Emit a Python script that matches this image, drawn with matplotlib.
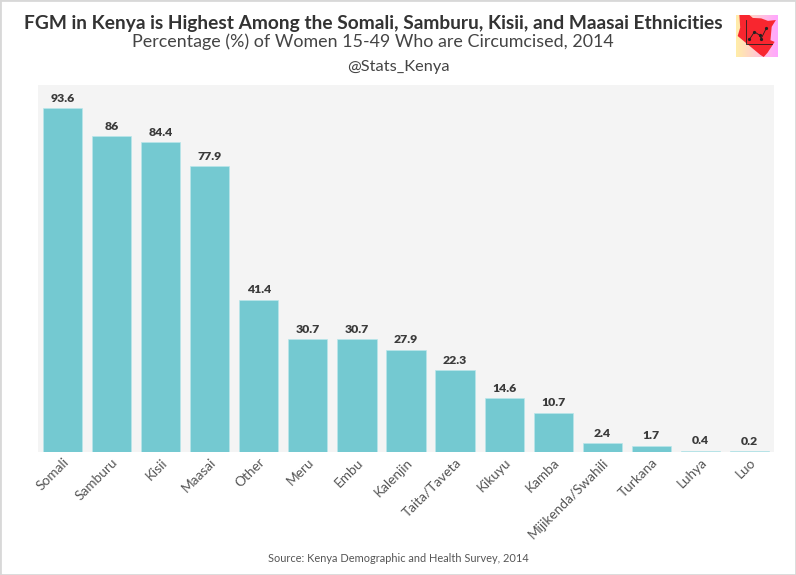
import matplotlib
matplotlib.use('Agg')
import matplotlib.pyplot as plt
from matplotlib.patches import Polygon, Rectangle
import numpy as np

plt.rcParams['font.family'] = ['Lato', 'DejaVu Sans']

groups = ['Somali', 'Samburu', 'Kisii', 'Maasai', 'Other', 'Meru', 'Embu', 'Kalenjin',
          'Taita/Taveta', 'Kikuyu', 'Kamba', 'Mijikenda/Swahili', 'Turkana', 'Luhya', 'Luo']
values = [93.6, 86, 84.4, 77.9, 41.4, 30.7, 30.7, 27.9, 22.3, 14.6, 10.7, 2.4, 1.7, 0.4, 0.2]
value_labels = ['93.6', '86', '84.4', '77.9', '41.4', '30.7', '30.7', '27.9', '22.3',
                '14.6', '10.7', '2.4', '1.7', '0.4', '0.2']

W, H = 796, 575
BAR_COLOR = '#74c9d1'
PANEL_COLOR = '#f4f4f4'

fig = plt.figure(figsize=(W / 100, H / 100), dpi=100, facecolor='white')

ax = fig.add_axes([38 / W, 1 - 452 / H, 736 / W, 367 / H], facecolor=PANEL_COLOR)
x = np.arange(len(groups))
ax.bar(x, values, width=0.8, color=BAR_COLOR, edgecolor='#b9e6ea', linewidth=0.5)
ax.set_xlim(-0.5, 14.5)
ax.set_ylim(0, 100.0)
for s in ax.spines.values():
    s.set_visible(False)
ax.set_yticks([])
ax.set_xticks(x)
ax.set_xticklabels(groups, rotation=45, ha='right', va='top', rotation_mode='anchor',
                   fontsize=9.8, color='#555555')
ax.tick_params(axis='x', length=0, pad=3)

for xi, v, lab in zip(x, values, value_labels):
    ax.annotate(lab, (xi, v), xytext=(0, 3.3), textcoords='offset points', ha='center',
                va='bottom', fontsize=8.8, fontweight='heavy', color='#3a3a3a')

fig.text(373 / W, 1 - 23 / H, 'FGM in Kenya is Highest Among the Somali, Samburu, Kisii, and Maasai Ethnicities',
         ha='center', va='center', fontsize=13.8, fontweight='bold', color='#333333')
fig.text(373 / W, 1 - 41.5 / H, 'Percentage (%) of Women 15-49 Who are Circumcised, 2014',
         ha='center', va='center', fontsize=12.85, color='#444444')
fig.text(398 / W, 1 - 67 / H, '@Stats_Kenya', ha='center', va='center', fontsize=11.8, color='#444444')
fig.text(398 / W, 1 - 558 / H, 'Source: Kenya Demographic and Health Survey, 2014',
         ha='center', va='center', fontsize=7.95, color='#555555')

# logo top right: gradient square with a red map and a tiny chart
logo = fig.add_axes([736 / W, 1 - 57 / H, 42 / W, 42 / H])
t = np.linspace(0, 1, 64)
yellow = np.array([1.0, 0.93, 0.66])
pink = np.array([1.0, 0.65, 1.0])
grad = np.array([[yellow * (1 - a) + pink * a for a in t]])
logo.imshow(grad, extent=(0, 1, 0, 1), aspect='auto')
kenya = [(0.08, 1.0), (0.32, 1.0), (0.4, 0.93), (0.6, 0.92), (0.76, 0.86), (0.95, 0.88), (0.85, 0.72),
         (0.82, 0.4), (0.92, 0.36), (0.75, 0.1), (0.66, 0.0), (0.58, 0.05), (0.04, 0.5), (0.1, 0.7)]
logo.add_patch(Polygon(kenya, closed=True, color='#f8262f', lw=0))
logo.plot([0.24, 0.24, 0.85], [0.88, 0.32, 0.32], color='#222222', lw=0.6)
logo_x = [0.32, 0.44, 0.56, 0.6, 0.72]
logo_y = [0.42, 0.6, 0.52, 0.44, 0.68]
logo.plot(logo_x, logo_y, color='#222222', lw=0.6, marker='o', ms=1.3)
logo.set_xlim(0, 1)
logo.set_ylim(0, 1)
logo.axis('off')

# thin grey frame of the screenshot
fig.add_artist(Rectangle((0, 0), 1, 1, transform=fig.transFigure, fill=False,
                         edgecolor='#d8d8d8', linewidth=2))

fig.savefig('out.png', dpi=100)
